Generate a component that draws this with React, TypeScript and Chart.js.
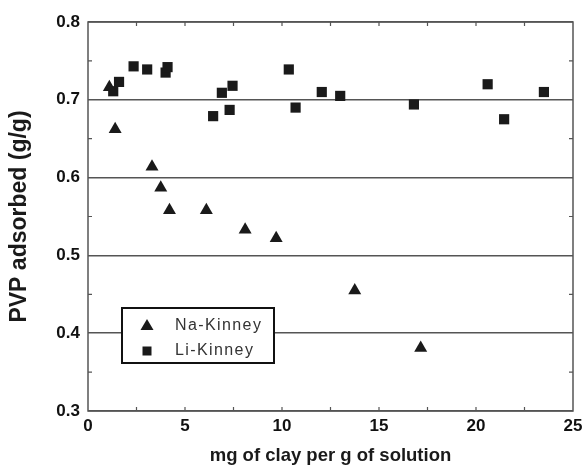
import React, { useEffect, useRef } from "react";
import { Chart, registerables } from "chart.js";

Chart.register(...registerables);

const naX = [1.1, 1.4, 3.3, 3.75, 4.2, 6.1, 8.1, 9.7, 13.75, 17.15];
const naY = [0.716, 0.662, 0.614, 0.587, 0.558, 0.558, 0.533, 0.522, 0.455, 0.381];
const liX = [1.3, 1.6, 2.35, 3.05, 4.0, 4.1, 6.45, 6.9, 7.3, 7.45, 10.35, 10.7, 12.05, 13.0, 16.8, 20.6, 21.45, 23.5];
const liY = [0.711, 0.723, 0.743, 0.739, 0.735, 0.742, 0.679, 0.709, 0.687, 0.718, 0.739, 0.69, 0.71, 0.705, 0.694, 0.72, 0.675, 0.71];
const seriesNames = ["Na-Kinney", "Li-Kinney"];
const xTitle = "mg of clay per g of solution";
const yTitle = "PVP adsorbed (g/g)";

const FONT = "'Liberation Sans', Arial, sans-serif";
const INK = "#1a1a1a";
const GRID = "#555";

const framePlugin = {
  id: "frameTicks",
  afterDraw(chart: any) {
    const { ctx, chartArea: a, scales } = chart;
    const xs = scales.x;
    const ys = scales.y;
    ctx.save();
    ctx.strokeStyle = GRID;
    ctx.lineWidth = 1.5;
    ctx.strokeRect(a.left, a.top, a.right - a.left, a.bottom - a.top);
    ctx.lineWidth = 1.2;
    const tl = 4;
    ctx.beginPath();
    for (let v = 2.5; v < 25; v += 2.5) {
      const px = xs.getPixelForValue(v);
      ctx.moveTo(px, a.bottom);
      ctx.lineTo(px, a.bottom - tl);
      ctx.moveTo(px, a.top);
      ctx.lineTo(px, a.top + tl);
    }
    for (let v = 0.35; v < 0.8; v += 0.1) {
      const py = ys.getPixelForValue(v);
      ctx.moveTo(a.left, py);
      ctx.lineTo(a.left + tl, py);
      ctx.moveTo(a.right, py);
      ctx.lineTo(a.right - tl, py);
    }
    ctx.stroke();

    // legend box
    const bx = a.left + 34;
    const by = a.bottom - 103;
    const bw = 152;
    const bh = 55;
    ctx.fillStyle = "#fff";
    ctx.fillRect(bx, by, bw, bh);
    ctx.strokeStyle = "#111";
    ctx.lineWidth = 2;
    ctx.strokeRect(bx, by, bw, bh);

    const mx = bx + 25;
    const y1 = by + 17;
    const y2 = by + 43;
    ctx.fillStyle = INK;
    ctx.beginPath();
    ctx.moveTo(mx, y1 - 6);
    ctx.lineTo(mx + 6.5, y1 + 5);
    ctx.lineTo(mx - 6.5, y1 + 5);
    ctx.closePath();
    ctx.fill();
    ctx.fillRect(mx - 4.5, y2 - 4.5, 9, 9);

    ctx.fillStyle = "#333";
    ctx.font = `16px ${FONT}`;
    (ctx as any).letterSpacing = "1.4px";
    ctx.textBaseline = "middle";
    ctx.textAlign = "left";
    ctx.fillText(seriesNames[0], bx + 53, y1 + 1);
    ctx.fillText(seriesNames[1], bx + 53, y2);
    ctx.restore();
  },
};

export default function App() {
  const ref = useRef<HTMLCanvasElement | null>(null);
  useEffect(() => {
    if (!ref.current) return;
    const chart = new Chart(ref.current, {
      type: "scatter",
      data: {
        datasets: [
          {
            label: seriesNames[0],
            data: naX.map((x, i) => ({ x, y: naY[i] })),
            pointStyle: "triangle",
            pointRadius: 7.5,
            backgroundColor: INK,
            borderWidth: 0,
          },
          {
            label: seriesNames[1],
            data: liX.map((x, i) => ({ x, y: liY[i] })),
            pointStyle: "rect",
            pointRadius: 7.2,
            backgroundColor: INK,
            borderWidth: 0,
          },
        ],
      },
      options: {
        animation: false,
        responsive: false,
        devicePixelRatio: 1,
        layout: { padding: { top: 22, right: 12, left: 0, bottom: 0 } },
        plugins: { legend: { display: false }, tooltip: { enabled: false } },
        scales: {
          x: {
            type: "linear",
            min: 0,
            max: 25,
            ticks: {
              stepSize: 5,
              color: "#111",
              font: { family: FONT, size: 17, weight: "bold" },
              padding: 5,
              maxRotation: 0,
            },
            grid: { display: false, drawTicks: false },
            border: { display: false },
            title: {
              display: true,
              text: xTitle,
              color: INK,
              font: { family: FONT, size: 18.5, weight: "bold" },
              padding: { top: 10, bottom: 2 },
            },
            afterFit(s: any) {
              s.height = 58;
              s.paddingLeft = 0;
              s.paddingRight = 0;
            },
          },
          y: {
            min: 0.3,
            max: 0.8,
            ticks: {
              stepSize: 0.1,
              color: "#111",
              font: { family: FONT, size: 17, weight: "bold" },
              padding: 8,
              callback: (v: any) => Number(v).toFixed(1),
            },
            grid: { color: GRID, lineWidth: 1.5, drawTicks: false },
            border: { display: false },
            title: {
              display: true,
              text: yTitle,
              color: INK,
              font: { family: FONT, size: 23, weight: "bold" },
              padding: { top: 6, bottom: 4 },
            },
            afterFit(s: any) {
              s.width = 88;
              s.paddingTop = 0;
              s.paddingBottom = 0;
            },
          },
        },
      },
      plugins: [framePlugin],
    } as any);
    return () => chart.destroy();
  }, []);
  return (
    <div style={{ position: "fixed", left: 0, top: 0, width: 585, height: 469, background: "#fff" }}>
      <canvas ref={ref} width={585} height={469} style={{ width: 585, height: 469, display: "block" }} />
    </div>
  );
}
